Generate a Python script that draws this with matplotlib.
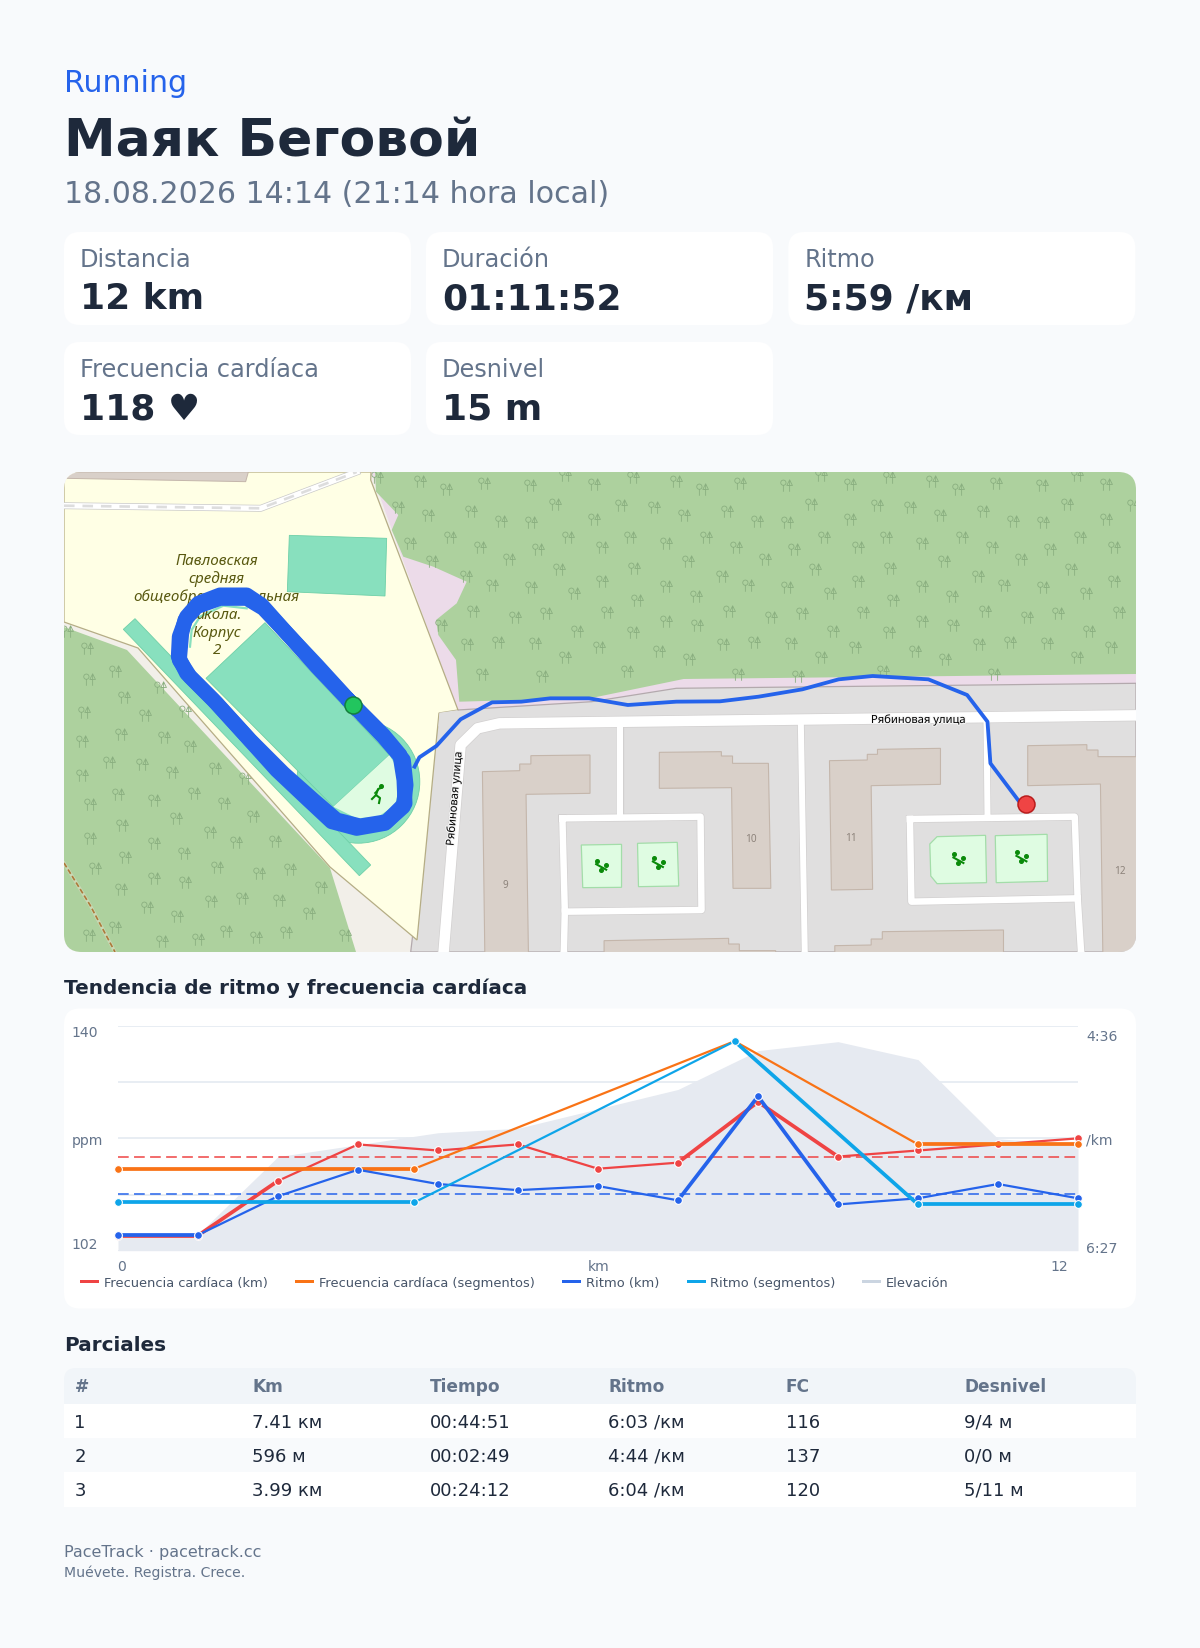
import matplotlib
matplotlib.use('Agg')
import matplotlib.pyplot as plt
from matplotlib.patches import FancyBboxPatch, Polygon, Rectangle
from matplotlib.path import Path
import matplotlib.patheffects as pe

# ---- chart values
km = list(range(13))
hr_km = [105, 105, 114, 120, 119, 120, 116, 117, 127, 118, 119, 120, 121]
pace_km = [379, 379, 360, 347, 354, 357, 355, 362, 311, 364, 361, 354, 361]
elevation = [1.1, 1.1, 6.3, 7.1, 7.9, 8.2, 9.5, 10.8, 13.4, 14, 12.8, 7.5, 7.1]
seg_x = [0, 3.705, 7.708, 10.0, 12]
hr_seg = [116, 116, 137, 120, 120]
pace_seg = [363, 363, 284, 364, 364]
hr_avg = 118
pace_avg = 359

# which stretches of each line are drawn heavier
hr_km_heavy = [0, 1, 7, 8]
pace_km_heavy = [0, 7, 8]
hr_seg_heavy = [0, 3]
pace_seg_heavy = [0, 2, 3]

# ---- text
cards = [('Distancia', '12 km'), ('Duración', '01:11:52'), ('Ritmo', '5:59 /км'),
         ('Frecuencia cardíaca', '118 ♥'), ('Desnivel', '15 m')]
legend_names = ['Frecuencia cardíaca (km)', 'Frecuencia cardíaca (segmentos)', 'Ritmo (km)',
                'Ritmo (segmentos)', 'Elevación']
table_head = ['#', 'Km', 'Tiempo', 'Ritmo', 'FC', 'Desnivel']
table_rows = [['1', '7.41 км', '00:44:51', '6:03 /км', '116', '9/4 м'],
              ['2', '596 м', '00:02:49', '4:44 /км', '137', '0/0 м'],
              ['3', '3.99 км', '00:24:12', '6:04 /км', '120', '5/11 м']]
school_lines = ['Павловская', 'средняя', 'общеобразовательная', 'школа.', 'Корпус', '2']

# ---- colours
BG = '#f8fafc'
DARK = '#1e293b'
SLATE = '#64748b'
BLUE = '#2563eb'
RED = '#ef4444'
ORANGE = '#f97316'
CYAN = '#0ea5e9'


def fs(px):
    return px * 0.72


def z3(pts):
    return [(50 + x / 3, 460 + y / 3) for x, y in pts]


def z4(pts):
    return [(400 + x / 2.063, 640 + y / 3) for x, y in pts]


fig = plt.figure(figsize=(12, 16.48), dpi=100, facecolor=BG)
bg = fig.add_axes([0, 0, 1, 1], zorder=0)
bg.set_xlim(0, 1200)
bg.set_ylim(1648, 0)
bg.axis('off')


def box(x0, y0, x1, y1, r=16, color='white', **kw):
    p = FancyBboxPatch((x0, y0), x1 - x0, y1 - y0, boxstyle=f'round,pad=0,rounding_size={r}',
                       facecolor=color, edgecolor='none', **kw)
    bg.add_patch(p)
    return p


def txt(x, y, s, px, color=DARK, weight='normal', ha='left', **kw):
    return bg.text(x, y, s, fontsize=fs(px), color=color, weight=weight, ha=ha, va='baseline', **kw)


# ---- header
txt(64, 91.7, 'Running', 30, BLUE)
txt(64, 156.7, 'Маяк Беговой', 52, DARK, 'bold')
txt(64, 203, '18.08.2026 14:14 (21:14 hora local)', 30, SLATE)

# ---- stat cards
card_x = [64, 426, 788.3]
card_y = [232, 342]
for i, (label, value) in enumerate(cards):
    x = card_x[i % 3]
    y = card_y[i // 3]
    box(x, y, x + 347, y + 93)
    txt(x + 16, y + 35, label, 24, SLATE)
    txt(x + 16, y + 77, value, 36, DARK, 'bold')

# ---- map
clip = box(64, 472, 1136, 952, r=18, color='#f2efe9')


def shape(pts, fc, ec='none', lw=0.0, z=1):
    p = Polygon(pts, closed=True, facecolor=fc, edgecolor=ec, linewidth=lw, zorder=z)
    bg.add_patch(p)
    p.set_clip_path(clip)
    return p


def road(pts, px, casing='#d2d0d0', fill='white', z=3):
    xs, ys = zip(*pts)
    a = bg.plot(xs, ys, color=casing, lw=(px + 1.4) * 0.72, solid_joinstyle='round', zorder=z)[0]
    b = bg.plot(xs, ys, color=fill, lw=px * 0.72, solid_joinstyle='round', zorder=z + 0.1)[0]
    a.set_clip_path(clip)
    b.set_clip_path(clip)


forest_right = [(375, 472), (376, 491.7), (398.3, 515), (391.7, 530), (403.3, 556.7), (433.3, 566.7),
                (466.7, 581.7), (456.7, 603.3), (436, 620), (438.3, 635), (456, 660), (459.3, 701.7),
                (591.5, 698), (683.6, 679), (1136, 674), (1136, 472)]
forest_left = [(64, 627), (127, 650), (330, 868), (356, 952), (64, 952)]
pink = [(371, 472), (458, 712), (591.5, 702), (676, 688), (1136, 683), (1136, 660), (470, 660), (470, 472)]
residential = [(438.8, 712.7), (458, 710), (591.5, 701.7), (676.3, 688.3), (1136, 683.3), (1136, 952), (410.7, 952)]
school = [(64, 472), (371, 472), (370.7, 480), (458, 710), (439, 713), (417, 940), (330, 867), (138, 648), (64, 622)]

shape(pink, '#ecdbe9', z=1)
shape(forest_right, '#add19e', z=1.1)
shape(forest_left, '#add19e', z=1.1)
shape(residential, '#e0dfdf', ec='#b3a9ad', lw=0.9, z=1.2)
shape(school, '#ffffe5', ec='#b5ad85', lw=0.9, z=1.3)

tile = [(94, 52), (216, 62), (290, 88), (398, 68), (530, 76), (630, 46), (712, 72), (60, 136), (154, 142),
        (240, 166), (362, 154), (447, 184), (533, 186), (601, 133), (712, 176), (85, 232), (188, 250),
        (302, 230), (387, 260), (552, 268), (638, 232), (735, 262), (250, 304), (470, 298), (97, 325),
        (612, 328), (347, 347), (188, 378), (422, 376), (533, 380), (735, 364), (655, 398), (105, 420),
        (273, 408), (368, 452), (20, 455), (487, 470), (575, 458), (188, 484), (276, 496),
        (664, 512), (93, 517), (350, 553), (438, 545), (544, 550), (727, 562), (168, 572), (253, 598),
        (630, 590), (77, 632), (393, 642), (563, 648)]
left_trees = [(110, 565), (50, 512), (195, 632), (117, 657), (222, 710), (330, 680), (101, 755), (284, 765),
              (405, 752), (212, 822), (96, 842), (341, 830), (420, 857), (176, 905), (275, 912), (365, 936),
              (95, 945), (495, 923), (203, 1002), (432, 998), (584, 954), (119, 1032), (311, 1020), (378, 1074),
              (521, 1028), (608, 1067), (215, 1094), (479, 1115), (120, 1134), (312, 1148), (558, 1146),
              (675, 1143), (402, 1178), (224, 1190), (135, 1224), (500, 1220), (627, 1238), (719, 1226),
              (311, 1254), (405, 1265), (212, 1286), (813, 1280), (291, 1340), (575, 1315), (483, 1322),
              (686, 1320), (380, 1367), (777, 1358), (195, 1402), (116, 1425), (527, 1412), (443, 1436),
              (336, 1442), (618, 1430), (707, 1417), (885, 1425)]
tree_l = Path.circle((-0.5, 0.45), 0.42)
tree_l2 = Path([(-0.5, 0.03), (-0.5, -1)], [Path.MOVETO, Path.LINETO])
tree_r = Path([(0.5, 0.9), (0.95, 0.0), (0.05, 0.0), (0.5, 0.9), (0.5, -1)],
              [Path.MOVETO, Path.LINETO, Path.LINETO, Path.LINETO, Path.LINETO])
tree = Path.make_compound_path(tree_l, tree_l2, tree_r)
tx, ty = [], []
right_shape = Path(forest_right)
for zx, zy in tile:
    for i in range(-3, 3):
        px_ = 600 + zx / 2.85 + i * 256
        py_ = 460 + zy / 3
        if 60 < px_ < 1140 and right_shape.contains_point((px_, py_)):
            tx.append(px_)
            ty.append(py_)
for lx, ly in z3(left_trees):
    tx.append(lx)
    ty.append(ly)
t = bg.plot(tx, ty, ls='none', marker=tree, ms=fs(12.5), mfc='none', mec='#8aaf80', mew=0.6, zorder=1.15)[0]
t.set_clip_path(clip)

# land strips and sports pitches
shape(z3([(50, 36), (595, 36), (587, 65), (50, 55)]), '#d9d0c9', ec='#c4b6ab', lw=0.7, z=1.4)
shape(z3([(1168, 758), (1225, 750), (1165, 800)]), '#e0dfdf', z=1.35)
pitch = '#88e0be'
pitch_edge = '#6ed0a8'
circ = plt.Circle((358.3, 781.7), 61.5, facecolor=pitch, edgecolor=pitch_edge, lw=0.6, zorder=1.5)
bg.add_patch(circ)
circ.set_clip_path(clip)
shape(z3([(718, 226), (1010, 235), (1005, 408), (712, 395)]), pitch, pitch_edge, 0.6, 1.5)
shape(z3([(255, 476), (962, 1215), (928, 1247), (220, 508)]), pitch, pitch_edge, 0.6, 1.5)
shape(z3([(645, 488), (1018, 885), (850, 1040), (468, 655)]), pitch, pitch_edge, 0.6, 1.6)
shape(z3([(1018, 885), (1045, 930), (1050, 975), (1035, 1035), (985, 1070), (920, 1075), (850, 1040)]),
      '#dffce2', z=1.6)
xs, ys = zip(*z3([(420, 560), (425, 510), (450, 470), (520, 437), (590, 445)]))
arc = bg.plot(xs, ys, color=pitch, lw=1.6, zorder=1.6)[0]
arc.set_clip_path(clip)

# dashed track and top road
xs, ys = zip(*[(64, 863), (90, 905), (115, 952)])
a = bg.plot(xs, ys, color='#c9d8b4', lw=2.4, zorder=1.7)[0]
b = bg.plot(xs, ys, color='#ad7a3a', lw=1.2, ls=(0, (3, 1.6)), zorder=1.8)[0]
a.set_clip_path(clip)
b.set_clip_path(clip)
top_road = [(64, 505.7), (260.7, 508.3), (356.7, 472)]
road(top_road, 5.5, casing='#c9c9c9', z=1.9)
xs, ys = zip(*top_road)
d = bg.plot(xs, ys, color='#dddddd', lw=1.9, ls=(0, (4, 3)), zorder=2.1)[0]
d.set_clip_path(clip)

# residential streets
road(z4([(453, 265), (453, 525)]), 6)
road(z4([(827, 255), (835, 935)]), 6)
road(z4([(1210, 250), (1212, 525)]), 6)
road(z4([(335, 535), (620, 530), (622, 810), (340, 815), (335, 535)]), 6.5)
road(z4([(340, 815), (338, 935)]), 6.5)
road(z4([(1052, 537), (1392, 530), (1398, 775), (1055, 785), (1052, 537)]), 6.5)
road(z4([(1398, 775), (1405, 935)]), 6.5)
road(z4([(1518, 226), (205, 250), (160, 265), (125, 315), (90, 935)]), 10.5)

# buildings
buildings = [
    [(170, 395), (247, 392), (247, 372), (270, 372), (270, 347), (392, 345), (392, 460), (260, 463), (265, 945), (175, 945)],
    [(535, 337), (663, 335), (663, 348), (686, 348), (686, 370), (760, 370), (765, 745), (687, 745), (684, 443), (535, 445)],
    [(886, 362), (964, 360), (964, 343), (985, 343), (985, 328), (1115, 325), (1115, 433), (972, 437), (975, 748), (890, 750)],
    [(1295, 317), (1417, 314), (1417, 330), (1440, 330), (1440, 350), (1530, 350), (1530, 945), (1450, 945), (1445, 432), (1295, 437)],
    [(421, 902), (678, 895), (678, 912), (700, 912), (700, 932), (775, 932), (775, 945), (421, 945)],
    [(897, 917), (972, 915), (972, 897), (995, 897), (995, 875), (1245, 870), (1245, 945), (897, 945)],
]
for b_ in buildings:
    shape(z4(b_), '#d9d0c9', '#c4b6ab', 0.8, 4)

playgrounds = [
    [(374, 615), (457, 613), (457, 742), (377, 743)],
    [(490, 610), (572, 607), (575, 738), (492, 740)],
    [(1108, 590), (1208, 586), (1210, 728), (1108, 731), (1095, 708), (1093, 612)],
    [(1228, 587), (1335, 583), (1336, 724), (1230, 728)],
]
for p_ in playgrounds:
    shape(z4(p_), '#dffce2', '#a3dda9', 0.9, 4)
for cx, cy in z4([(415, 680), (532, 672), (1152, 660), (1282, 655)]):
    bg.plot([cx - 5, cx + 5], [cy - 2.5, cy + 3], color='#0a8a0a', lw=1.5, zorder=4.2)
    bg.plot([cx - 4, cx + 5, cx], [cy - 6, cy - 2, cy + 3], ls='none', marker='o', ms=2.6, color='#0a8a0a', zorder=4.2)

# running icon on the pitch
bg.plot([372, 376, 378, 381], [799, 795, 789, 788], color='#0a8a0a', lw=1.5, zorder=4.2)
bg.plot([376, 380, 379], [795, 798, 803], color='#0a8a0a', lw=1.5, zorder=4.2)
bg.plot([378, 375], [790, 793], color='#0a8a0a', lw=1.2, zorder=4.2)
bg.plot([380.5], [785.5], marker='o', ms=2.6, color='#0a8a0a', zorder=4.2)

# map labels
for (hx, hy), n in zip(z4([(217, 745), (723, 605), (930, 602), (1485, 703)]), ['9', '10', '11', '12']):
    bg.text(hx, hy, n, fontsize=fs(10), color='#8d837b', ha='center', va='baseline', zorder=4.5, family='Noto Sans')
halo = [pe.withStroke(linewidth=1.6, foreground='#f4f4f4')]
bg.text(918.7, 723, 'Рябиновая улица', fontsize=fs(11.2), color='black', ha='center', va='baseline',
        zorder=4.5, family='Noto Sans', path_effects=halo)
bg.text(454.8, 798.3, 'Рябиновая улица', fontsize=fs(11.2), color='black', ha='center', va='center',
        rotation=85, rotation_mode='anchor', zorder=4.5, family='Noto Sans', path_effects=halo)
for line, base in zip(school_lines, [565, 582.7, 600.7, 619, 636.7, 654]):
    bg.text(216.7, base, line, fontsize=fs(15.2), color='#58580f', ha='center', va='baseline', style='italic',
            zorder=4.5, family='Noto Sans')

# route laps and the way out
route_lap = z3([(910, 736), (1000, 830), (1060, 900), (1068, 975), (1060, 1040), (1010, 1085), (930, 1098),
                (860, 1080), (790, 1020), (700, 940), (600, 840), (500, 730), (420, 650), (388, 600), (395, 520),
                (405, 480), (440, 440), (510, 415), (590, 415), (640, 445), (720, 530), (800, 620), (910, 736)])
route_lap_2 = z3([(905, 730), (1000, 825), (1050, 885), (1062, 960), (1065, 1030), (1005, 1090), (920, 1105),
                  (845, 1085), (770, 1015), (680, 930), (590, 830), (490, 720), (410, 640), (385, 590), (388, 530),
                  (410, 470), (445, 430), (510, 405), (590, 405), (635, 435), (715, 525), (800, 615), (905, 730)])
route_tail = z4([(30, 380), (40, 352), (75, 318), (125, 238), (190, 187), (250, 185), (310, 175), (390, 175),
                 (470, 195), (570, 185), (660, 184), (740, 170), (830, 148), (905, 118), (975, 108), (1090, 118),
                 (1170, 165), (1212, 245), (1218, 370), (1275, 480)])
for lap in (route_lap, route_lap_2):
    xs, ys = zip(*lap)
    r1 = bg.plot(xs, ys, color=BLUE, lw=fs(15), solid_joinstyle='round', zorder=5)[0]
    r1.set_clip_path(clip)
xs, ys = zip(*route_tail)
r2 = bg.plot(xs, ys, color=BLUE, lw=fs(3.8), solid_joinstyle='round', zorder=5)[0]
r2.set_clip_path(clip)
sx, sy = z3([(910, 736)])[0]
ex, ey = z4([(1292, 492)])[0]
bg.plot([sx], [sy], marker='o', ms=fs(17), mfc='#22c55e', mec='#15803d', mew=1.1, zorder=6)
bg.plot([ex], [ey], marker='o', ms=fs(17), mfc=RED, mec='#b91c1c', mew=1.1, zorder=6)

# ---- trend chart
txt(64, 994, 'Tendencia de ritmo y frecuencia cardíaca', 20, DARK, 'bold')
box(64, 1008.5, 1136, 1308.5)

rect = [118 / 1200, 1 - 1250.7 / 1648, 960 / 1200, 224.7 / 1648]
ax_el = fig.add_axes(rect, zorder=1)
ax_hr = fig.add_axes(rect, zorder=2)
ax_pace = fig.add_axes(rect, zorder=3)
for a_ in (ax_el, ax_hr, ax_pace):
    a_.set_xlim(0, 12)
    a_.patch.set_visible(False)
    a_.set_xticks([])
    a_.set_yticks([])
    for s in a_.spines.values():
        s.set_visible(False)
ax_el.set_ylim(0, 15.05)
ax_hr.set_ylim(102.5, 139.5)
ax_pace.set_ylim(386.7, 276.5)

ax_el.set_yticks([0, 3.7625, 7.525, 11.2875, 15.05])
ax_el.tick_params(length=0, labelleft=False)
ax_el.grid(axis='y', color='#e2e8f0', lw=1.1)
ax_el.set_axisbelow(True)
ax_el.fill_between(km, elevation, 0, color='#e6eaf1', lw=0, zorder=2)

ax_hr.axhline(hr_avg, color=RED, lw=1.1, ls=(0, (7, 3.5)), zorder=1)
ax_pace.axhline(pace_avg, color=BLUE, lw=1.1, ls=(0, (7, 3.5)), zorder=1)


def trend(ax, xs, ys, color, heavy, z):
    for i in range(len(xs) - 1):
        ax.plot(xs[i:i + 2], ys[i:i + 2], color=color, lw=2.7 if i in heavy else 1.6, zorder=z,
                solid_capstyle='round', clip_on=False)
    ax.plot(xs, ys, ls='none', marker='o', ms=5.6, mfc=color, mec='white', mew=0.8, zorder=z + 0.5, clip_on=False)


trend(ax_hr, km, hr_km, RED, hr_km_heavy, 2)
trend(ax_hr, seg_x, hr_seg, ORANGE, hr_seg_heavy, 3)
trend(ax_pace, km, pace_km, BLUE, pace_km_heavy, 2)
trend(ax_pace, seg_x, pace_seg, CYAN, pace_seg_heavy, 3)

# axis captions
txt(71.5, 1037, '140', 14, SLATE)
txt(71.5, 1144.7, 'ppm', 14, SLATE)
txt(71.5, 1249.3, '102', 14, SLATE)
txt(1086, 1041, '4:36', 14, SLATE)
txt(1086, 1145, '/km', 14, SLATE)
txt(1086, 1253, '6:27', 14, SLATE)
txt(117, 1271, '0', 14, SLATE)
txt(598.8, 1271, 'km', 14, SLATE, ha='center')
txt(1067.7, 1271, '12', 14, SLATE, ha='right')

# legend
legend_swatch = [80, 295, 562, 686.5, 862]
legend_text = [104.3, 319.4, 586, 709.5, 885.5]
legend_colors = [RED, ORANGE, BLUE, CYAN, '#cbd5e1']
for sw, tx_, name, c in zip(legend_swatch, legend_text, legend_names, legend_colors):
    bg.add_patch(Rectangle((sw, 1279.8), 19, 3, facecolor=c, edgecolor='none'))
    txt(tx_, 1286.7, name, 13, '#475569')

# ---- splits table
txt(64, 1350.7, 'Parciales', 20, DARK, 'bold')
box(64, 1368, 1136, 1404, r=12, color='#f1f5f9')
bg.add_patch(Rectangle((64, 1386), 1072, 18, facecolor='#f1f5f9', edgecolor='none'))
row_top = [1404, 1438, 1472]
row_bot = [1438, 1472, 1507]
row_base = [1427.6, 1461.6, 1495.6]
row_fill = ['white', BG, 'white']
col_x = [74.5, 252, 430, 608, 785.5, 964]
for x, h in zip(col_x, table_head):
    txt(x, 1391.7, h, 17, SLATE, 'bold')
for top, bot, base, fill, row in zip(row_top, row_bot, row_base, row_fill, table_rows):
    bg.add_patch(Rectangle((64, top), 1072, bot - top, facecolor=fill, edgecolor='none'))
    for x, cell in zip(col_x, row):
        txt(x, base, cell, 18, DARK)

# ---- footer
txt(64, 1556.7, 'PaceTrack · pacetrack.cc', 16, SLATE)
txt(64, 1577, 'Muévete. Registra. Crece.', 14, SLATE)

fig.savefig('out.png', dpi=100, facecolor=BG)
plt.close(fig)
